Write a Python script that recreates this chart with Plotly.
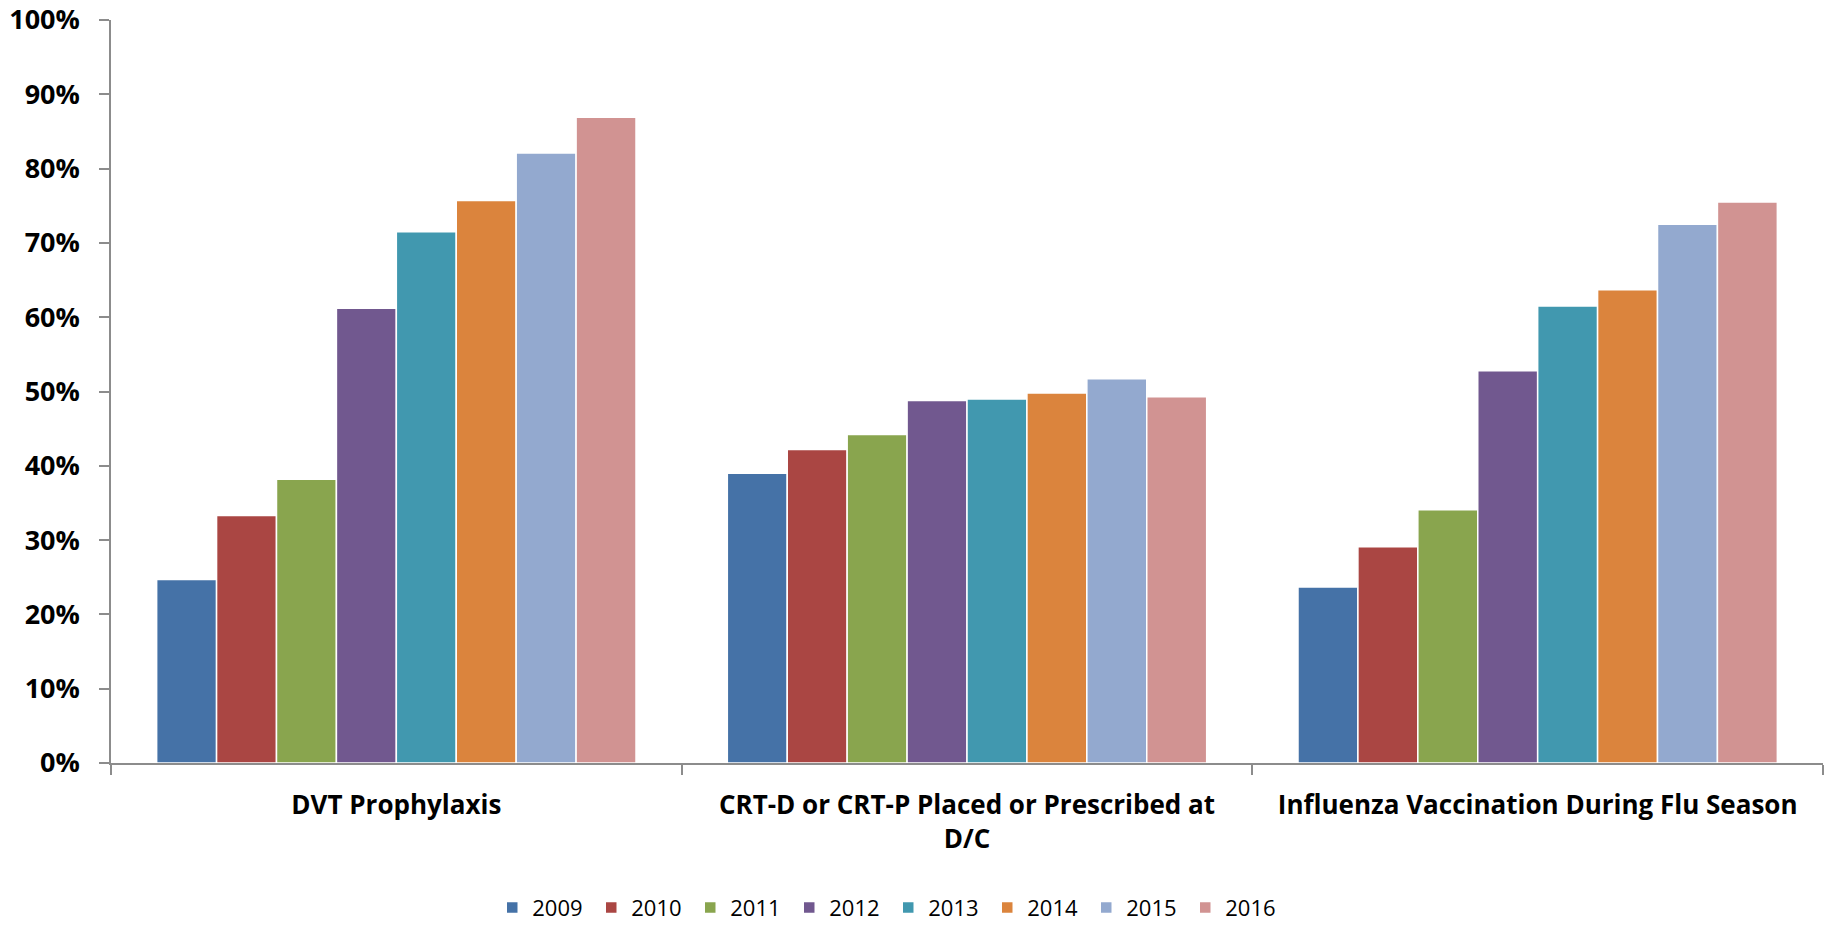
import plotly.graph_objects as go

measures = [
    "DVT Prophylaxis",
    "CRT-D or CRT-P Placed or Prescribed at<br>D/C",
    "Influenza Vaccination During Flu Season",
]
years = ["2009", "2010", "2011", "2012", "2013", "2014", "2015", "2016"]

# Share of patients meeting each measure, by year (fraction)
rates = {
    "2009": [0.247, 0.390, 0.237],
    "2010": [0.333, 0.422, 0.291],
    "2011": [0.382, 0.442, 0.341],
    "2012": [0.612, 0.488, 0.528],
    "2013": [0.715, 0.490, 0.615],
    "2014": [0.757, 0.498, 0.637],
    "2015": [0.821, 0.517, 0.725],
    "2016": [0.869, 0.493, 0.755],
}

colors = ["#4572A7", "#AA4643", "#89A54E", "#71588F",
          "#4198AF", "#DB843D", "#93A9CF", "#D19392"]

fig = go.Figure()
for yr, col in zip(years, colors):
    fig.add_trace(go.Bar(
        name=yr,
        x=measures,
        y=rates[yr],
        marker=dict(color=col, line=dict(color="white", width=1.5)),
    ))

font_family = "Open Sans, Liberation Sans, sans-serif"

fig.update_layout(
    barmode="group",
    bargap=0.16,
    bargroupgap=0,
    width=1831,
    height=928,
    paper_bgcolor="white",
    plot_bgcolor="white",
    margin=dict(l=111, r=8, t=20, b=165, autoexpand=False),
    font=dict(family=font_family, color="black"),
    legend=dict(
        orientation="h",
        x=0.454,
        xanchor="center",
        yref="container",
        y=0.022,
        yanchor="middle",
        font=dict(size=22, family=font_family, color="black"),
        entrywidth=54,
        entrywidthmode="pixels",
        traceorder="normal",
    ),
    showlegend=True,
)

fig.update_yaxes(
    range=[0, 1.0],
    dtick=0.1,
    tickformat=".0%",
    showgrid=False,
    zeroline=False,
    showline=True,
    linecolor="#8c8c8c",
    linewidth=1.5,
    ticks="outside",
    ticklen=10,
    tickcolor="#8c8c8c",
    tickwidth=1.5,
    ticklabelstandoff=14,
    automargin=False,
    tickfont=dict(size=27, family=font_family, color="black", weight="bold"),
)

fig.update_xaxes(
    showgrid=False,
    showline=True,
    linecolor="#8c8c8c",
    linewidth=1.5,
    ticks="outside",
    tickson="boundaries",
    ticklen=10,
    tickcolor="#8c8c8c",
    tickwidth=1.5,
    ticklabelstandoff=18,
    automargin=False,
    tickfont=dict(size=26, family=font_family, color="black", weight="bold"),
)

fig.write_html("out.html")
